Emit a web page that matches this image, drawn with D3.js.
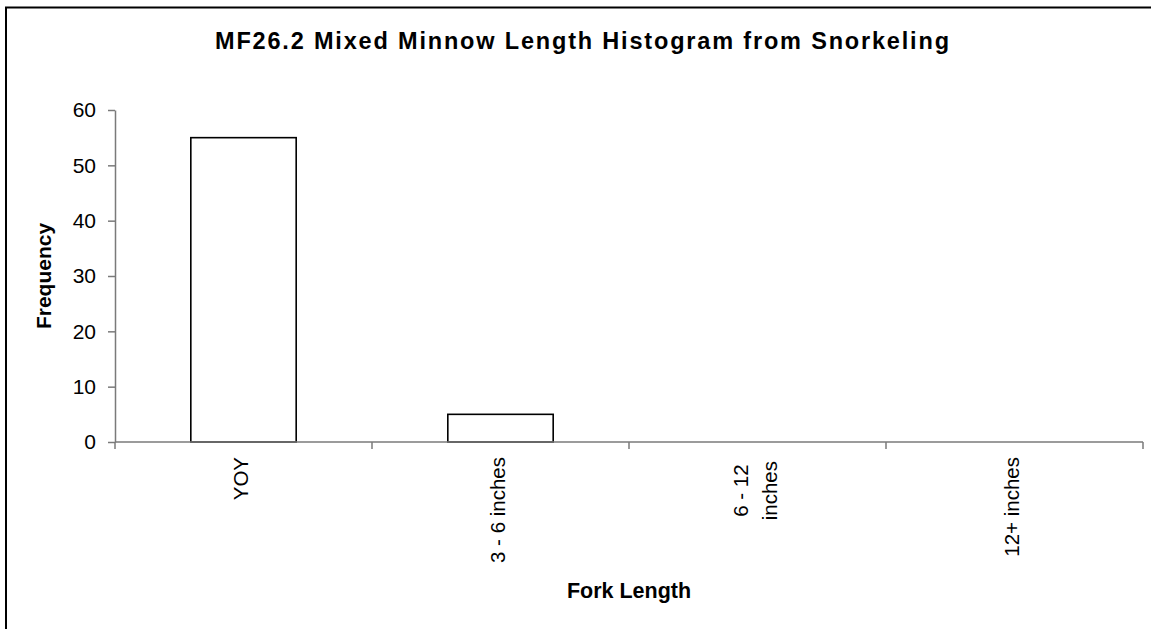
<!DOCTYPE html>
<html>
<head>
<meta charset="utf-8">
<script src="https://cdn.jsdelivr.net/npm/d3@7"></script>
<style>
  body { margin: 0; background: #fff; overflow: hidden; }
  svg { display: block; }
  text { font-family: Arial, "Liberation Sans", sans-serif; fill: #000; }
</style>
</head>
<body>
<div id="chart"></div>
<script>
// data
const categories = ["YOY", "3 - 6 inches", "6 - 12\ninches", "12+ inches"];
const frequency = [55, 5, 0, 0];
const yTicks = [0, 10, 20, 30, 40, 50, 60];

const width = 1151,
    height = 629,
    plotLeft = 115, plotRight = 1143,
    plotTop = 110, plotBottom = 442,
    axisColor = "#7a7a7a";

const svg = d3.select("#chart").append("svg")
    .attr("width", width)
    .attr("height", height);

// outer chart border: only left and top edges are inside the picture
svg.append("path")
    .attr("d", `M6,${height + 5}V7.5H${width + 5}`)
    .attr("fill", "none")
    .attr("stroke", "#000")
    .attr("stroke-width", 2);

const x = d3.scaleBand()
    .domain(categories)
    .range([plotLeft, plotRight])
    .paddingInner(0.59)
    .paddingOuter(0.295);

const y = d3.scaleLinear()
    .domain([0, 60])
    .range([plotBottom, plotTop]);

// bars
svg.append("g").selectAll("rect")
    .data(frequency)
    .enter()
    .append("rect")
    .attr("x", (d, i) => x(categories[i]))
    .attr("y", d => y(d))
    .attr("width", x.bandwidth())
    .attr("height", d => y(0) - y(d))
    .attr("fill", "#fff")
    .attr("stroke", "#000")
    .attr("stroke-width", 1.6);

// y axis
const yAxis = svg.append("g")
    .attr("transform", `translate(${plotLeft},0)`)
    .call(d3.axisLeft(y).tickValues(yTicks).tickSize(7).tickPadding(12).tickSizeOuter(0));
yAxis.select(".domain").attr("stroke", axisColor).attr("stroke-width", 1.5);
yAxis.selectAll(".tick line").attr("stroke", axisColor).attr("stroke-width", 1.5);
yAxis.selectAll(".tick text")
    .style("font-size", "21px")
    .attr("fill", "#000");

// x axis line and boundary ticks
const step = x.step();
const bounds = categories.map(c => x(c) + x.bandwidth() / 2 - step / 2).concat([plotRight]);
svg.append("line")
    .attr("x1", plotLeft).attr("x2", plotRight)
    .attr("y1", y(0)).attr("y2", y(0))
    .attr("stroke", axisColor).attr("stroke-width", 1.5);
svg.append("g").selectAll("line")
    .data(bounds)
    .enter()
    .append("line")
    .attr("x1", d => d).attr("x2", d => d)
    .attr("y1", y(0)).attr("y2", y(0) + 7)
    .attr("stroke", axisColor).attr("stroke-width", 1.5);

// category labels, rotated
const labelTop = 457;
const lab = svg.append("g").selectAll("g")
    .data(categories)
    .enter()
    .append("g")
    .attr("transform", d => `translate(${x(d) + x.bandwidth() / 2 - 2.5},${labelTop}) rotate(-90)`);

lab.each(function (d) {
    const g = d3.select(this);
    const lines = d.split("\n");
    const n = lines.length;
    const texts = lines.map((ln, i) => g.append("text")
        .attr("text-anchor", "end")
        .attr("x", 0)
        .attr("y", (i - (n - 1) / 2) * 29)
        .attr("dy", "0.35em")
        .style("font-size", "20.5px")
        .text(ln));
    if (n > 1) {
        const lens = texts.map(t => t.node().getComputedTextLength());
        const maxLen = d3.max(lens);
        texts.forEach((t, i) => t.attr("x", -(maxLen - lens[i]) / 2 - 4));
    }
});

// axis titles
svg.append("text")
    .attr("x", (plotLeft + plotRight) / 2)
    .attr("y", 598)
    .attr("text-anchor", "middle")
    .style("font-size", "21.5px")
    .style("font-weight", "bold")
    .text("Fork Length");

svg.append("text")
    .attr("transform", `translate(51,${(plotTop + plotBottom) / 2}) rotate(-90)`)
    .attr("text-anchor", "middle")
    .style("font-size", "21px")
    .style("font-weight", "bold")
    .text("Frequency");

// chart title
svg.append("text")
    .attr("x", 215)
    .attr("y", 49)
    .attr("textLength", 734)
    .attr("lengthAdjust", "spacing")
    .style("font-size", "23.5px")
    .style("font-weight", "bold")
    .text("MF26.2 Mixed Minnow Length Histogram from Snorkeling");
</script>
</body>
</html>
